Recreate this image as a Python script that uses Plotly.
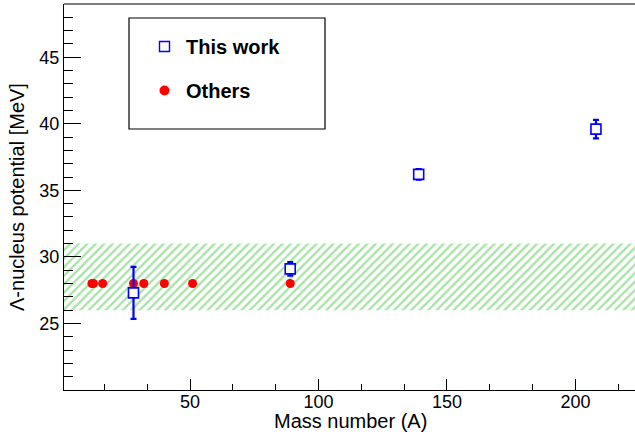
import plotly.graph_objects as go

# Data
others_A = [11.8, 12.4, 16, 28, 32, 40, 51, 89]
others_V = [28, 28, 28, 28, 28, 28, 28, 28]

this_A = [28, 89, 139, 208]
this_V = [27.3, 29.1, 36.2, 39.6]
this_err = [1.95, 0.5, 0.4, 0.7]

band_lo, band_hi = 26.0, 31.0
x_range = [0.95, 223.2]
y_range = [20, 49]
x_tickvals = [50, 100, 150, 200]
y_tickvals = [25, 30, 35, 40, 45]

x_title = "Mass number (A)"
y_title = "Λ-nucleus potential [MeV]"

FONT = "Liberation Sans, Arial, Helvetica, sans-serif"

fig = go.Figure()

# hatched band
fig.add_trace(go.Scatter(
    x=[x_range[0], x_range[1], x_range[1], x_range[0], x_range[0]],
    y=[band_lo, band_lo, band_hi, band_hi, band_lo],
    mode="lines", line=dict(width=0), fill="toself",
    fillcolor="rgba(0,0,0,0)",
    fillpattern=dict(shape="/", fgcolor="#50c850", bgcolor="rgba(255,255,255,0)",
                     size=6, solidity=0.4),
    showlegend=False, hoverinfo="skip"))

fig.add_trace(go.Scatter(
    x=others_A, y=others_V, mode="markers",
    marker=dict(symbol="circle", size=9, color="#ff0000"),
    showlegend=False))

fig.add_trace(go.Scatter(
    x=this_A, y=this_V, mode="markers",
    marker=dict(symbol="square", size=10, color="white",
                line=dict(color="#0000ff", width=1.6)),
    error_y=dict(type="data", array=this_err, color="#0000ff",
                 thickness=2.2, width=3),
    showlegend=False))

# legend entries
fig.add_trace(go.Scatter(
    x=[None], y=[None], mode="markers", name="This work", legendgroup="a",
    marker=dict(symbol="square-open", size=10, color="#0000ff",
                line=dict(color="#0000ff", width=1.4))))
fig.add_trace(go.Scatter(
    x=[None], y=[None], mode="markers", name="Others", legendgroup="b",
    marker=dict(symbol="circle", size=10, color="#ff0000")))

pl, pr, pt, pb = 64, 635, 4, 390
W, H = 635, 434
def px2paper_x(p): return (p - pl) / (pr - pl)
def px2paper_y(p): return (pb - p) / (pb - pt)

fig.add_shape(type="rect", xref="paper", yref="paper",
              x0=px2paper_x(129), x1=px2paper_x(325),
              y0=px2paper_y(129), y1=px2paper_y(18),
              line=dict(color="black", width=1.2), fillcolor="white", layer="below")

# axis titles
fig.add_annotation(text=x_title, xref="paper", yref="paper",
                   x=px2paper_x(350), y=px2paper_y(421), xanchor="center", yanchor="middle",
                   showarrow=False, font=dict(size=20, family=FONT, color="black"))
fig.add_annotation(text=y_title, xref="paper", yref="paper", textangle=-90,
                   x=px2paper_x(17), y=px2paper_y(197), xanchor="center", yanchor="middle",
                   showarrow=False, font=dict(size=20, family=FONT, color="black"))

fig.update_layout(
    width=W, height=H,
    margin=dict(l=pl, r=W - pr, t=pt, b=H - pb, autoexpand=False),
    paper_bgcolor="white", plot_bgcolor="white",
    font=dict(family=FONT, size=18, color="black"),
    showlegend=True,
    legend=dict(x=px2paper_x(143), y=px2paper_y(27), xanchor="left", yanchor="top",
                bgcolor="rgba(0,0,0,0)", borderwidth=0,
                font=dict(family=FONT, size=20, color="black", weight="bold"),
                tracegroupgap=15, traceorder="grouped", itemwidth=33),
    xaxis=dict(range=x_range, tickvals=x_tickvals, ticks="inside", ticklen=11,
               tickwidth=1, tickcolor="black", showgrid=False, zeroline=False,
               showline=True, linecolor="black", linewidth=1, mirror=False,
               automargin=False, ticklabelstandoff=-5,
               minor=dict(dtick=50/3, tick0=0, ticks="inside", ticklen=6,
                          tickcolor="black", showgrid=False),
               tickfont=dict(size=18)),
    yaxis=dict(range=y_range, tickvals=y_tickvals, ticks="inside", ticklen=17,
               tickwidth=1, tickcolor="black", showgrid=False, zeroline=False,
               showline=True, linecolor="black", linewidth=1, mirror=False,
               automargin=False,
               minor=dict(dtick=1, tick0=0, ticks="inside", ticklen=9,
                          tickcolor="black", showgrid=False),
               tickfont=dict(size=18)),
)
# top frame line
fig.add_shape(type="line", xref="paper", yref="paper", x0=0, x1=1, y0=1, y1=1,
              line=dict(color="black", width=1.2))

fig.write_html("out.html", config={"displayModeBar": False},
               post_script="document.body.style.margin='0';document.body.style.overflow='hidden';")
